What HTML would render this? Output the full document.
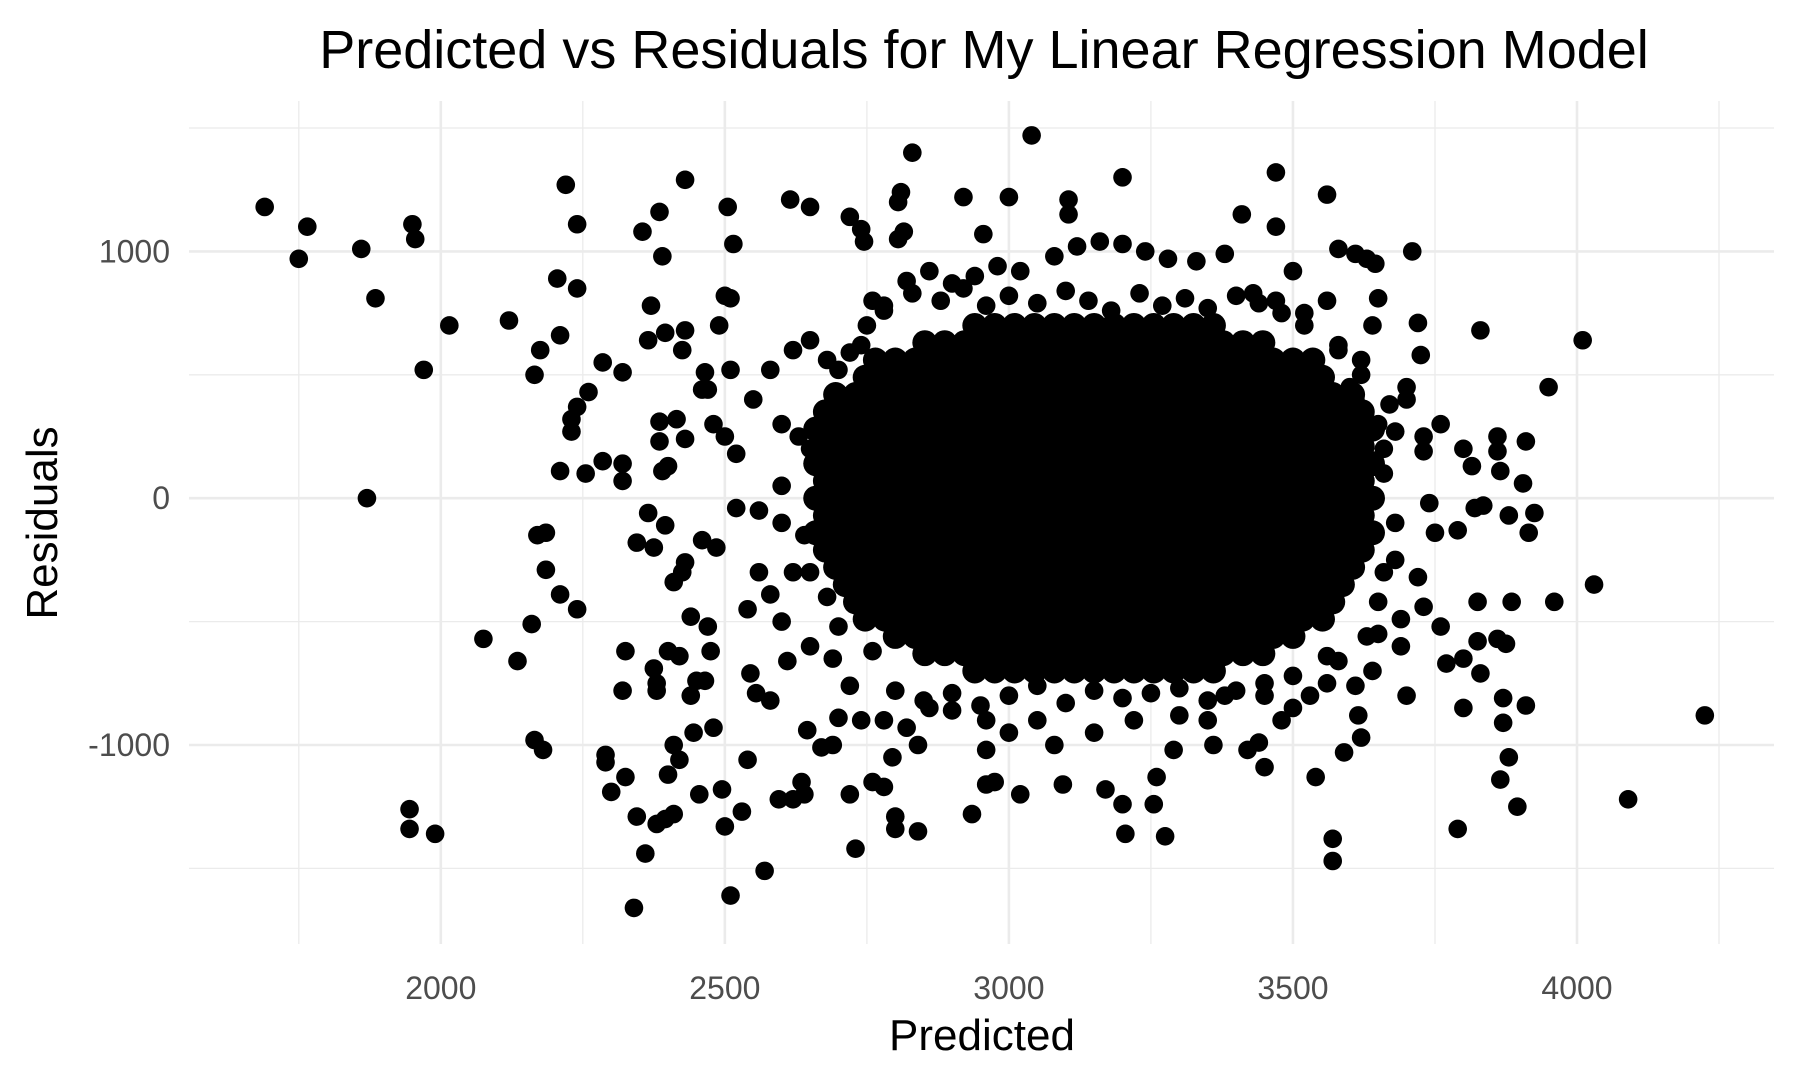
<!DOCTYPE html>
<html><head><meta charset="utf-8">
<style>
html,body{margin:0;padding:0;background:#fff;}
svg{display:block;font-family:"Liberation Sans",Arial,sans-serif;}
</style></head>
<body>
<svg id="chart" width="1800" height="1080" viewBox="0 0 1800 1080">
  <rect x="0" y="0" width="1800" height="1080" fill="#fff"/>
  <g id="grid"></g>
  <g id="points"></g>
  <g id="xticks"></g>
  <g id="yticks"></g>
  <text x="984" y="68" font-size="54" text-anchor="middle" fill="#000">Predicted vs Residuals for My Linear Regression Model</text>
  <text x="982" y="1050" font-size="44" text-anchor="middle" fill="#000">Predicted</text>
  <text x="0" y="0" font-size="44" text-anchor="middle" fill="#000" transform="translate(57,523) rotate(-90)">Residuals</text>
</svg>
<script>
const xMajorTicks = [2000, 2500, 3000, 3500, 4000];
const xMinorTicks = [1750, 2250, 2750, 3250, 3750, 4250];
const yMajorTicks = [-1000, 0, 1000];
const yMinorTicks = [-1500, -500, 500, 1500];

const coreResiduals = [700,630,560,490,420,350,280,210,140,70,0,-70,-140,-210,-280,-350,-420,-490,-560,-630,-700];
const corePredicted = [
 [2940,2975,3010,3045,3080,3115,3150,3185,3220,3255,3290,3325,3360],
 [2852,2887,2922,2957,2992,3027,3062,3097,3132,3167,3202,3237,3272,3307,3342,3377,3412,3447],
 [2765,2800,2835,2870,2905,2940,2975,3010,3045,3080,3115,3150,3185,3220,3255,3290,3325,3360,3395,3430,3465,3500,3535],
 [2747,2782,2817,2852,2887,2922,2957,2992,3027,3062,3097,3132,3167,3202,3237,3272,3307,3342,3377,3412,3447,3482,3517,3552],
 [2695,2730,2765,2800,2835,2870,2905,2940,2975,3010,3045,3080,3115,3150,3185,3220,3255,3290,3325,3360,3395,3430,3465,3500,3535,3570,3605],
 [2677,2712,2747,2782,2817,2852,2887,2922,2957,2992,3027,3062,3097,3132,3167,3202,3237,3272,3307,3342,3377,3412,3447,3482,3517,3552,3587,3622],
 [2660,2695,2730,2765,2800,2835,2870,2905,2940,2975,3010,3045,3080,3115,3150,3185,3220,3255,3290,3325,3360,3395,3430,3465,3500,3535,3570,3605,3640],
 [2677,2712,2747,2782,2817,2852,2887,2922,2957,2992,3027,3062,3097,3132,3167,3202,3237,3272,3307,3342,3377,3412,3447,3482,3517,3552,3587,3622],
 [2660,2695,2730,2765,2800,2835,2870,2905,2940,2975,3010,3045,3080,3115,3150,3185,3220,3255,3290,3325,3360,3395,3430,3465,3500,3535,3570,3605,3640],
 [2677,2712,2747,2782,2817,2852,2887,2922,2957,2992,3027,3062,3097,3132,3167,3202,3237,3272,3307,3342,3377,3412,3447,3482,3517,3552,3587,3622],
 [2660,2695,2730,2765,2800,2835,2870,2905,2940,2975,3010,3045,3080,3115,3150,3185,3220,3255,3290,3325,3360,3395,3430,3465,3500,3535,3570,3605,3640],
 [2677,2712,2747,2782,2817,2852,2887,2922,2957,2992,3027,3062,3097,3132,3167,3202,3237,3272,3307,3342,3377,3412,3447,3482,3517,3552,3587,3622],
 [2660,2695,2730,2765,2800,2835,2870,2905,2940,2975,3010,3045,3080,3115,3150,3185,3220,3255,3290,3325,3360,3395,3430,3465,3500,3535,3570,3605,3640],
 [2677,2712,2747,2782,2817,2852,2887,2922,2957,2992,3027,3062,3097,3132,3167,3202,3237,3272,3307,3342,3377,3412,3447,3482,3517,3552,3587,3622],
 [2695,2730,2765,2800,2835,2870,2905,2940,2975,3010,3045,3080,3115,3150,3185,3220,3255,3290,3325,3360,3395,3430,3465,3500,3535,3570,3605],
 [2712,2747,2782,2817,2852,2887,2922,2957,2992,3027,3062,3097,3132,3167,3202,3237,3272,3307,3342,3377,3412,3447,3482,3517,3552,3587],
 [2730,2765,2800,2835,2870,2905,2940,2975,3010,3045,3080,3115,3150,3185,3220,3255,3290,3325,3360,3395,3430,3465,3500,3535,3570],
 [2747,2782,2817,2852,2887,2922,2957,2992,3027,3062,3097,3132,3167,3202,3237,3272,3307,3342,3377,3412,3447,3482,3517,3552],
 [2800,2835,2870,2905,2940,2975,3010,3045,3080,3115,3150,3185,3220,3255,3290,3325,3360,3395,3430,3465,3500],
 [2852,2887,2922,2957,2992,3027,3062,3097,3132,3167,3202,3237,3272,3307,3342,3377,3412,3447],
 [2940,2975,3010,3045,3080,3115,3150,3185,3220,3255,3290,3325,3360]
];

const scatterPredicted = [1690,1750,1765,1860,1870,1885,1950,1955,1970,1945,1945,1990,2015,2075,2120,2135,2160,2165,2170,2175,2165,2180,2185,2185,2205,2210,2210,2210,2220,2230,2230,2240,2240,2240,2240,2255,2260,2285,2285,2290,2290,2300,2320,2320,2320,2320,2325,2325,2340,2345,2345,2355,2360,2365,2365,2370,2375,2375,2380,2380,2380,2385,2385,2385,2390,2390,2395,2395,2395,2400,2400,2400,2410,2410,2410,2415,2420,2420,2425,2425,2430,2430,2430,2430,2440,2440,2445,2450,2455,2460,2460,2465,2465,2470,2470,2475,2480,2480,2485,2490,2495,2500,2500,2500,2505,2510,2510,2510,2515,2520,2520,2530,2540,2545,2550,2555,2570,2580,2595,2615,2620,2635,2640,2650,2645,2670,2690,2700,2720,2720,2730,2740,2745,2760,2780,2795,2800,2800,2805,2805,2810,2815,2830,2840,2840,2920,2935,2955,2960,2960,2975,3000,3020,3040,3095,3105,3105,3170,3200,3200,3205,3255,3260,3275,3290,3360,3410,3420,3440,3450,3470,3470,3540,3560,3570,3570,3580,3590,3610,3615,3620,3630,3645,3650,3710,3720,3725,3700,3700,3730,3730,3740,3760,3750,3760,3770,3790,3800,3800,3800,3790,3815,3820,3825,3825,3830,3835,3830,3860,3860,3865,3860,3870,3870,3875,3880,3880,3885,3865,3895,3905,3910,3910,3915,3925,3950,3960,4010,4030,4090,4225,
3600,3610,3650,3660,3640,3660,3690,3690,3700,3680,3720,3730,3650,3640,3610,3580,3560,3530,3500,3480,3450,3380,3350,3300,3220,3150,3080,3050,3000,2960,2900,2860,2820,2780,2740,2720,2690,2650,2610,2600,2580,2560,2540,2620,2640,2600,2560,2600,2630,2600,2580,2620,2650,2680,2720,2750,2760,2780,2820,2860,2900,2940,2980,3020,3080,3120,3160,3200,3240,3280,3330,3380,3430,3470,3500,3520,3560,3580,3620,3640,3600,3680,
2780,2830,2880,2920,2960,3000,3050,3100,3140,3180,3230,3270,3310,3350,3400,3440,3480,3520,2800,2850,2900,2950,3000,3050,3100,3150,3200,3250,3300,3350,3400,3450,3500,2740,3580,2700,3620,2680,3650,2700,3630,2760,3560,3660,2650,3680,2650,3670];
const scatterResiduals = [1180,970,1100,1010,0,810,1110,1050,520,-1260,-1340,-1360,700,-570,720,-660,-510,500,-150,600,-980,-1020,-140,-290,890,660,110,-390,1270,320,270,370,850,1110,-450,100,430,550,150,-1040,-1070,-1190,510,140,70,-780,-620,-1130,-1660,-180,-1290,1080,-1440,-60,640,780,-200,-690,-750,-780,-1320,230,310,1160,980,110,670,-110,-1300,-1120,-620,130,-1280,-1000,-340,320,-640,-1060,600,-300,1290,680,240,-260,-480,-800,-950,-740,-1200,440,-170,510,-740,-520,440,-620,300,-930,-200,700,-1180,820,250,-1330,1180,-1610,810,520,1030,-40,180,-1270,-1060,-710,400,-790,-1510,-820,-1220,1210,-1220,-1150,-1200,1180,-940,-1010,-1000,-890,1140,-1200,-1420,1090,1040,-1150,-1170,-1050,-1290,-1340,1200,1050,1240,1080,1400,-1350,-1000,1220,-1280,1070,-1020,-1160,-1150,1220,-1200,1470,-1160,1210,1150,-1180,1300,-1240,-1360,-1240,-1130,-1370,-1020,-1000,1150,-1020,-990,-1090,1320,1100,-1130,1230,-1380,-1470,1010,-1030,990,-880,-970,970,950,810,1000,710,580,450,400,250,190,-20,300,-140,-520,-670,-130,200,-650,-850,-1340,130,-40,-420,-580,680,-30,-710,250,190,110,-570,-810,-910,-590,-1050,-70,-420,-1140,-1250,60,-840,230,-140,-60,450,-420,640,-350,-1220,-880,
450,400,300,200,-150,-300,-490,-600,-800,-250,-320,-440,-550,-700,-760,-660,-750,-800,-850,-900,-800,-800,-900,-880,-900,-950,-1000,-900,-950,-900,-860,-850,-930,-900,-900,-760,-650,-600,-660,-500,-390,-300,-450,-300,-150,-100,-50,50,250,300,520,600,640,560,590,700,800,760,880,920,870,900,940,920,980,1020,1040,1030,1000,970,960,990,830,800,920,750,800,600,560,700,320,270,
780,830,800,850,780,820,790,840,800,760,830,780,810,770,820,790,750,700,-780,-820,-790,-840,-800,-760,-830,-780,-810,-790,-770,-820,-780,-750,-720,620,620,520,500,-400,-420,-520,-560,-620,-640,100,200,-100,-300,380];

const NS = 'http://www.w3.org/2000/svg';
const panel = {left: 189, right: 1774, top: 101, bottom: 944};
function xScale(v){ return 440.8 + (v - 2000) * 0.5681; }
function yScale(v){ return 498.2 - v * 0.2468; }

const grid = document.getElementById('grid');
function gline(x1,y1,x2,y2,w,name){
  const l = document.createElementNS(NS,'line');
  l.setAttribute('x1',x1); l.setAttribute('y1',y1); l.setAttribute('x2',x2); l.setAttribute('y2',y2);
  l.setAttribute('stroke','#ebebeb'); l.setAttribute('stroke-width',w);
  
  
  grid.appendChild(l);
}
xMinorTicks.forEach(v => gline(xScale(v),panel.top,xScale(v),panel.bottom,1.3,'x-minor-gridline'));
yMinorTicks.forEach(v => gline(panel.left,yScale(v),panel.right,yScale(v),1.3,'y-minor-gridline'));
xMajorTicks.forEach(v => gline(xScale(v),panel.top,xScale(v),panel.bottom,2.6,'x-major-gridline'));
yMajorTicks.forEach(v => gline(panel.left,yScale(v),panel.right,yScale(v),2.6,'y-major-gridline'));

const xt = document.getElementById('xticks');
xMajorTicks.forEach(v => {
  const t = document.createElementNS(NS,'text');
  t.setAttribute('x', xScale(v)); t.setAttribute('y', 999);
  t.setAttribute('font-size','32'); t.setAttribute('fill','#4d4d4d'); t.setAttribute('text-anchor','middle');
  t.textContent = String(v);
  
  
  xt.appendChild(t);
});
const yt = document.getElementById('yticks');
yMajorTicks.forEach(v => {
  const t = document.createElementNS(NS,'text');
  t.setAttribute('x', 170); t.setAttribute('y', yScale(v) + 11);
  t.setAttribute('font-size','32'); t.setAttribute('fill','#4d4d4d'); t.setAttribute('text-anchor','end');
  t.textContent = String(v);
  
  
  yt.appendChild(t);
});

const pts = document.getElementById('points');
function dot(px, res, r){
  const c = document.createElementNS(NS,'circle');
  c.setAttribute('cx', xScale(px)); c.setAttribute('cy', yScale(res)); c.setAttribute('r', r);
  c.setAttribute('fill','#000');
  
  
  pts.appendChild(c);
}
coreResiduals.forEach((r,i) => corePredicted[i].forEach(p => dot(p, r, 12.5)));
scatterPredicted.forEach((p,i) => dot(p, scatterResiduals[i], 9.3));
</script>
</body></html>
